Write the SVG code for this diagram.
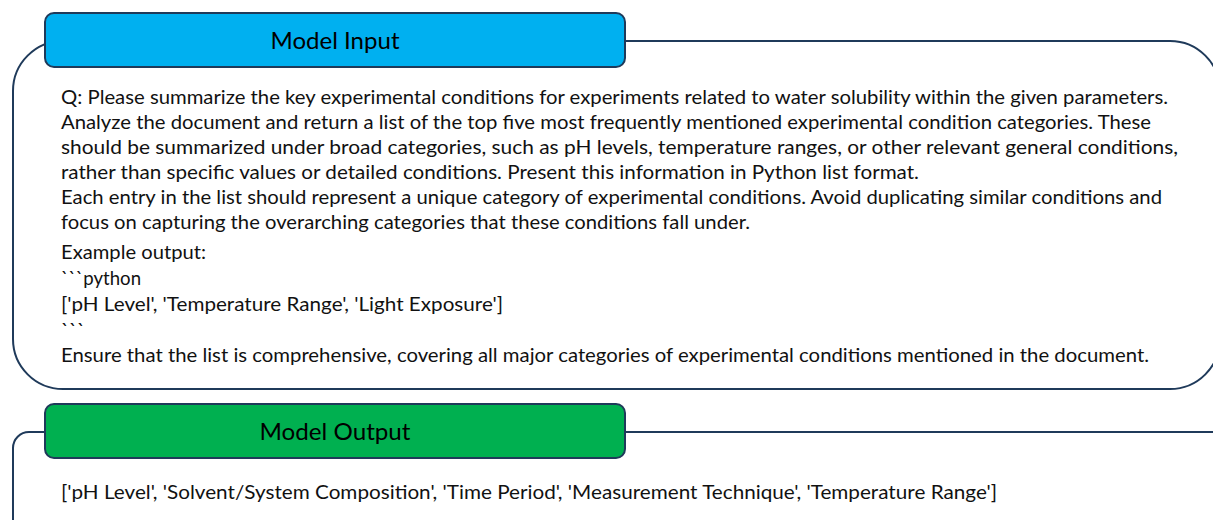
<svg xmlns="http://www.w3.org/2000/svg" width="1213" height="520" viewBox="0 0 1213 520">
  <style>
    .frame { fill: none; stroke: #1F3A5A; stroke-width: 2; }
    .head { stroke: #1F3A5A; stroke-width: 2; }
    .title { font-family: Lato, "Liberation Sans", sans-serif; font-size: 24px; fill: #000; text-anchor: middle; }
    .body { font-family: Lato, "Liberation Sans", sans-serif; font-size: 20px; fill: #111; }
  </style>

  <!-- frames around each panel -->
  <g id="connectors">
    <rect class="frame" x="13" y="41" width="1207" height="348" rx="50" ry="50"/>
    <rect class="frame" x="13" y="432" width="1215" height="110" rx="16" ry="16"/>
  </g>

  <!-- input panel -->
  <g id="model-input">
    <rect class="head" x="45" y="13" width="580" height="54" rx="9" ry="9" fill="#00B0F0"/>
    <text class="title" x="335" y="49" textLength="129" lengthAdjust="spacingAndGlyphs">Model Input</text>
  </g>

  <g id="input-text" class="body">
    <text x="61" y="104" textLength="1107" lengthAdjust="spacingAndGlyphs">Q: Please summarize the key experimental conditions for experiments related to water solubility within the given parameters.</text>
    <text x="61" y="129" textLength="1090" lengthAdjust="spacingAndGlyphs">Analyze the document and return a list of the top five most frequently mentioned experimental condition categories. These</text>
    <text x="61" y="154" textLength="1117" lengthAdjust="spacingAndGlyphs">should be summarized under broad categories, such as pH levels, temperature ranges, or other relevant general conditions,</text>
    <text x="61" y="179" textLength="858" lengthAdjust="spacingAndGlyphs">rather than specific values or detailed conditions. Present this information in Python list format.</text>
    <text x="61" y="204" textLength="1101" lengthAdjust="spacingAndGlyphs">Each entry in the list should represent a unique category of experimental conditions. Avoid duplicating similar conditions and</text>
    <text x="61" y="229" textLength="689" lengthAdjust="spacingAndGlyphs">focus on capturing the overarching categories that these conditions fall under.</text>
    <text x="61" y="259" textLength="145" lengthAdjust="spacingAndGlyphs">Example output:</text>
    <text x="61" y="285" textLength="80" lengthAdjust="spacingAndGlyphs">```python</text>
    <text x="61" y="311" textLength="442" lengthAdjust="spacingAndGlyphs">['pH Level', 'Temperature Range', 'Light Exposure']</text>
    <text x="61" y="337">```</text>
    <text x="61" y="362" textLength="1088" lengthAdjust="spacingAndGlyphs">Ensure that the list is comprehensive, covering all major categories of experimental conditions mentioned in the document.</text>
  </g>

  <!-- output panel -->
  <g id="model-output">
    <rect class="head" x="45" y="404" width="580" height="54" rx="9" ry="9" fill="#00B050"/>
    <text class="title" x="335" y="440" textLength="151" lengthAdjust="spacingAndGlyphs">Model Output</text>
  </g>

  <g id="output-text" class="body">
    <text x="61" y="499" textLength="936" lengthAdjust="spacingAndGlyphs">['pH Level', 'Solvent/System Composition', 'Time Period', 'Measurement Technique', 'Temperature Range']</text>
  </g>
</svg>
